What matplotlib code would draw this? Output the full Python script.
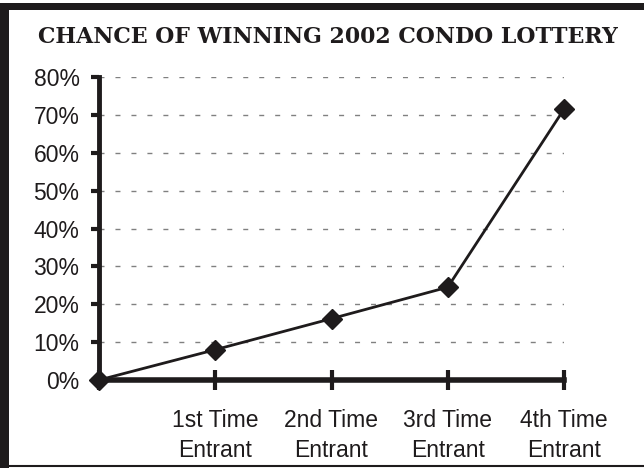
import matplotlib
matplotlib.use("Agg")
import matplotlib.pyplot as plt
from matplotlib.patches import Rectangle
from matplotlib.lines import Line2D
from matplotlib.ticker import FuncFormatter, MultipleLocator

title = "CHANCE OF WINNING 2002 CONDO LOTTERY"
categories = ["", "1st Time\nEntrant", "2nd Time\nEntrant", "3rd Time\nEntrant", "4th Time\nEntrant"]
chances = [0.0, 0.08, 0.162, 0.245, 0.715]

fig = plt.figure(figsize=(6.44, 4.68), dpi=100)
W, H = 644, 468

# frame decoration
fig.patches.append(Rectangle((0, 0), 9 / W, (468 - 3) / H, transform=fig.transFigure,
                             facecolor="#1e1b1c", edgecolor="none"))
fig.patches.append(Rectangle((0, 1 - 10 / H), 1, 7 / H, transform=fig.transFigure,
                             facecolor="#1e1b1c", edgecolor="none"))
fig.lines.append(Line2D([9 / W, 1], [1 - 466 / H, 1 - 466 / H], transform=fig.transFigure,
                        color="#1e1b1c", lw=1.5))

ax = fig.add_axes([99 / W, 1 - 380 / H, (564 - 99) / W, (380 - 77) / H])
x = list(range(len(categories)))
ax.plot(x, chances, color="#1e1b1c", lw=2, marker="D", markersize=10.5,
        markerfacecolor="#1e1b1c", markeredgecolor="#1e1b1c", clip_on=False, zorder=5)

ax.set_xlim(0, 4)
ax.set_ylim(0, 0.8)
ax.yaxis.set_major_locator(MultipleLocator(0.1))
ax.yaxis.set_major_formatter(FuncFormatter(lambda v, p: f"{v*100:.0f}%"))
ax.set_xticks(x)
ax.set_xticklabels(categories, fontsize=16.5, family="Liberation Sans", linespacing=1.4)
for lab in ax.get_yticklabels():
    lab.set_fontsize(16.5)
    lab.set_family("Liberation Sans")

for s in ["top", "right"]:
    ax.spines[s].set_visible(False)
ax.spines["left"].set_linewidth(3.5)
ax.spines["bottom"].set_linewidth(4)
ax.spines["left"].set_color("#1e1b1c")
ax.spines["bottom"].set_color("#1e1b1c")
ax.tick_params(axis="x", direction="inout", length=14, width=3, pad=14, colors="#1e1b1c",
               labelcolor="#1e1b1c")
ax.tick_params(axis="y", direction="out", length=6, width=3, pad=8, colors="#1e1b1c",
               labelcolor="#1e1b1c")
ax.yaxis.grid(True, color="#808080", lw=1, linestyle=(0, (3.6, 7.9)))
ax.set_axisbelow(True)

fig.text(328 / W, 1 - 37 / H, title, ha="center", va="center", fontsize=15.8,
         fontweight="bold", family="DejaVu Serif", color="#1e1b1c")

fig.savefig("out.png", dpi=100)
